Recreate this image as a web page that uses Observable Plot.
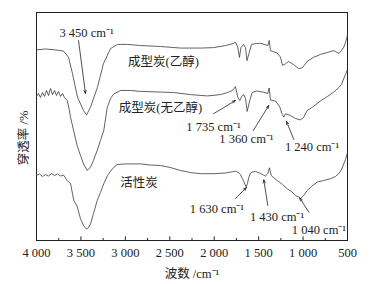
<!DOCTYPE html>
<html><head><meta charset="utf-8">
<script src="https://cdn.jsdelivr.net/npm/d3@7"></script>
<script src="https://cdn.jsdelivr.net/npm/@observablehq/plot@0.6"></script>
<style>
html,body{margin:0;padding:0;background:#fff;}
#chart svg{display:block;}
#chart svg text{font-family:"Liberation Serif","Noto Sans CJK SC",serif;}
</style></head>
<body><div id="chart"></div>
<script>
// Series: 成型炭(乙醇)
const wn1 = [4000,3899,3786,3696,3640,3595,3539,3471,3437,3392,3314,3246,3167,3088,2976,2830,2605,2379,2154,2008,1873,1783,1761,1735,1716,1699,1670,1648,1631,1609,1580,1524,1479,1434,1395,1381,1367,1291,1254,1232,1198,1164,1108,1048,1006,950,883,804,725,654,596,568,542,523,500];
const t1  = [83.6,84.0,83.6,83.1,80.4,73.2,62.9,57.0,55.0,58.5,67.2,77.6,84.2,86.0,86.0,85.5,85.1,84.4,84.4,84.6,85.5,86.4,87.0,84.8,80.3,84.6,86.0,84.6,78.9,82.0,86.0,86.4,86.5,86.0,85.5,87.7,83.3,82.2,80.4,76.8,77.5,78.5,77.2,75.3,75.9,78.7,80.3,81.6,82.5,83.3,82.0,83.3,84.8,86.8,89.9];
// Series: 成型炭(无乙醇)
const wn2 = [4000,3977,3955,3932,3910,3887,3865,3842,3820,3797,3775,3752,3730,3707,3685,3655,3634,3617,3580,3543,3505,3468,3429,3409,3392,3359,3317,3280,3243,3204,3167,3130,3055,2942,2830,2605,2458,2267,2076,1929,1850,1794,1761,1735,1712,1685,1667,1648,1629,1600,1573,1524,1442,1397,1381,1367,1310,1262,1235,1217,1198,1142,1085,1029,995,954,883,804,725,654,598,568,542,523,500];
const t2  = [63.2,64.5,62.7,64.9,63.2,65.8,63.6,66.7,64.0,65.8,63.6,65.4,63.2,64.5,62.7,61.4,57.9,54.1,47.8,41.7,37.3,33.3,30.7,31.6,32.1,35.1,39.5,43.9,48.2,58.3,62.3,64.3,65.8,65.8,65.4,65.1,64.9,64.0,63.4,64.0,64.9,65.8,67.5,62.9,61.4,63.6,63.9,62.3,56.6,61.4,64.9,65.6,65.0,64.5,66.9,61.6,61.2,58.6,55.3,54.1,55.6,54.8,53.5,52.9,53.9,57.0,58.8,61.2,63.2,65.1,67.1,68.4,71.1,72.8,75.0];
// Series: 活性炭
const wn3 = [4000,3966,3932,3899,3865,3831,3797,3764,3730,3696,3655,3617,3580,3542,3505,3471,3437,3411,3392,3359,3317,3280,3243,3201,3148,3092,2998,2905,2830,2717,2605,2492,2379,2267,2154,2008,1873,1761,1727,1704,1685,1667,1640,1626,1611,1592,1573,1535,1479,1446,1424,1397,1378,1359,1291,1232,1179,1130,1085,1051,1029,995,954,905,841,770,691,635,598,568,542,523,504];
const t3  = [28.5,29.2,28.1,28.9,28.3,29.4,28.5,29.2,28.3,28.7,26.3,25.0,17.5,14.9,9.6,6.6,5.0,5.8,7.3,11.8,17.5,21.1,24.9,28.5,31.4,33.3,33.6,33.6,33.6,33.1,32.9,32.0,30.7,29.8,29.3,29.3,29.6,30.4,29.8,28.9,27.2,25.9,23.4,25.0,27.6,29.6,30.0,30.3,29.4,28.7,28.3,29.3,31.9,28.5,26.3,24.6,22.7,21.5,19.7,19.1,18.3,19.7,21.9,23.7,25.6,26.3,27.1,28.1,29.3,31.1,33.6,35.5,38.0];

// Axis ticks
const majorTicks = [4000,3500,3000,2500,2000,1500,1000,500];
const majorLabels = ["4 000","3 500","3 000","2 500","2 000","1 500","1 000","500"];
const minorTicks = [3750,3250,2750,2250,1750,1250,750];
const xTitle = "波数 /cm⁻¹";
const yTitle = "穿透率 /%";

// Series labels
const seriesNames = ["成型炭(乙醇)","成型炭(无乙醇)","活性炭"];
const seriesLabelX = [2571,2605,2847];
const seriesLabelY = [78.1,57.9,25.4];

// Peak annotations
const peakText = ["3 450 cm⁻¹","1 735 cm⁻¹","1 360 cm⁻¹","1 240 cm⁻¹","1 630 cm⁻¹","1 430 cm⁻¹","1 040 cm⁻¹"];
const peakTextX = [3437,2008,1637,899,1969,1293,821];
const peakTextY = [90.8,50.0,44.3,40.8,14.0,10.5,4.8];
const arrowX1 = [3527,2008,1561,1104,1761,1397,935];
const arrowY1 = [87.7,55.6,48.2,44.3,18.4,15.4,12.4];
const arrowX2 = [3449,1761,1386,1187,1637,1442,1037];
const arrowY2 = [64.5,61.4,59.2,52.3,23.2,26.6,18.7];

const series = [[wn1,t1],[wn2,t2],[wn3,t3]].map(([w,t],i) => w.map((x,j)=>({x, y:t[j], s:i})));
const rows = series.flat();
const labels = seriesNames.map((n,i)=>({n, x:seriesLabelX[i], y:seriesLabelY[i]}));
const peaks = peakText.map((t,i)=>({t, x:peakTextX[i], y:peakTextY[i], x1:arrowX1[i], y1:arrowY1[i], x2:arrowX2[i], y2:arrowY2[i]}));

const ink = "#222";

const chart = Plot.plot({
  width: 374,
  height: 284,
  marginLeft: 36,
  marginRight: 27,
  marginTop: 12,
  marginBottom: 44,
  style: {fontSize: "12px", background: "#fff", color: ink},
  x: {domain: [4000, 500], axis: null},
  y: {domain: [0, 100], axis: null},
  marks: [
    Plot.frame({stroke: ink, strokeWidth: 1}),
    Plot.ruleX(majorTicks, {x: d=>d, y1: 0, y2: 1.6, stroke: ink}),
    Plot.ruleX(minorTicks, {x: d=>d, y1: 0, y2: 0.9, stroke: ink}),
    Plot.axisX(majorTicks, {anchor: "bottom", tickSize: 0, tickPadding: 8, tickFormat: d => majorLabels[majorTicks.indexOf(d)], fontSize: 12.5, label: null}),
    Plot.line(rows, {x: "x", y: "y", z: "s", stroke: "#3a3a3a", strokeWidth: 0.8}),
    Plot.text(labels, {x: "x", y: "y", text: "n", fontSize: 12.5, fill: ink}),
    Plot.arrow(peaks, {x1: "x1", y1: "y1", x2: "x2", y2: "y2", stroke: ink, strokeWidth: 0.8, headLength: 6, headAngle: 40}),
    Plot.text(peaks, {x: "x", y: "y", text: "t", fontSize: 12.5, fill: ink}),
    Plot.text([xTitle], {frameAnchor: "bottom", dy: 37, text: d=>d, fontSize: 12.5, fill: ink}),
    Plot.text([yTitle], {x: () => 4000, y: () => 45, dx: -13, rotate: -90, text: d=>d, fontSize: 12.5, fill: ink})
  ]
});
document.getElementById("chart").appendChild(chart);
</script>
</body></html>
